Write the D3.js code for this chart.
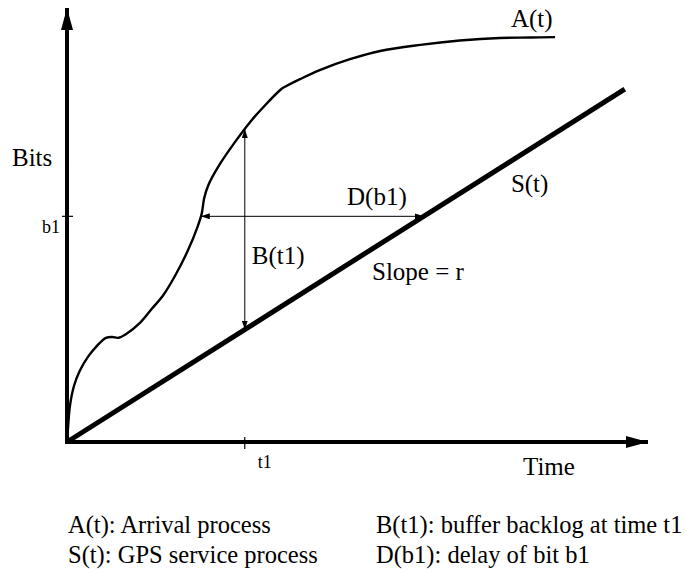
<!DOCTYPE html>
<html>
<head>
<meta charset="utf-8">
<script src="https://cdn.jsdelivr.net/npm/d3@7"></script>
<style>
  body { margin: 0; background: #fff; }
  svg text { font-family: "Liberation Serif", "Times New Roman", serif; fill: #000; }
</style>
</head>
<body>
<svg id="chart"></svg>
<script>
// Arrival curve A(t): [time, bits] (both axes 0..100)
const arrivalTime = [0, 0.2, 0.5, 1.2, 2.2, 3.6, 5.2, 6.7, 7.8, 8.8, 10.2, 12.6, 14.6, 16.5, 18.6, 20.8,
  22.5, 23.2, 23.6, 24.3, 26.3, 28.9, 31.5, 34.1, 36.7, 37.2, 40.1, 43.5, 48.7, 53.9, 60.8, 67.6, 74.5, 79.7, 84.0];
const arrivalBits = [0, 3.7, 8.3, 12.9, 16.4, 19.6, 22.2, 24.0, 24.2, 24.0, 24.9, 27.5, 30.7, 33.7, 38.3, 44.1,
  49.7, 52.7, 56.1, 59.1, 64.0, 69.1, 73.7, 77.6, 81.1, 81.6, 83.6, 85.7, 88.2, 90.1, 91.5, 92.5, 93.1, 93.2, 93.3];

// GPS service curve S(t) = r * t
const serviceRate = 0.847;
const serviceEnd = 96;

// marked instants
const t1 = 30.6;
const b1 = 52.0;

const labels = [
  { text: "A(t)", t: 76.4, b: 95.6 },
  { text: "S(t)", t: 76.4, b: 57.7 },
  { text: "D(b1)", t: 48.2, b: 54.7 },
  { text: "B(t1)", t: 31.8, b: 41.1 },
  { text: "Slope = r", t: 52.5, b: 37.4 }
];
const legendLeft = ["A(t): Arrival process", "S(t): GPS service process"];
const legendRight = ["B(t1): buffer backlog at time t1", "D(b1): delay of bit b1"];

const width = 686, height = 572;
const svg = d3.select("#chart").attr("width", width).attr("height", height);

const x = d3.scaleLinear().domain([0, 100]).range([67, 648]);
const y = d3.scaleLinear().domain([0, 100]).range([442, 8]);

const arrival = arrivalTime.map((t, i) => [t, arrivalBits[i]]);

// linear lookup on the arrival curve
function arrivalAt(t) {
  const i = d3.bisector(d => d[0]).right(arrival, t);
  const a = arrival[i - 1], b = arrival[i];
  return a[1] + (b[1] - a[1]) * (t - a[0]) / (b[0] - a[0]);
}
function arrivalInverse(v) {
  for (let i = 1; i < arrival.length; i++) {
    const a = arrival[i - 1], b = arrival[i];
    if (b[1] >= v) return a[0] + (b[0] - a[0]) * (v - a[1]) / (b[1] - a[1]);
  }
}

// arrowheads
const defs = svg.append("defs");
function marker(id, len, half) {
  defs.append("marker")
    .attr("id", id)
    .attr("viewBox", `0 ${-half} ${len} ${half * 2}`)
    .attr("refX", len).attr("refY", 0)
    .attr("markerWidth", len).attr("markerHeight", half * 2)
    .attr("markerUnits", "userSpaceOnUse")
    .attr("orient", "auto-start-reverse")
    .append("path")
    .attr("d", `M0,${-half}L${len},0L0,${half}Z`)
    .attr("fill", "#000");
}
marker("bigArrow", 22, 6);
marker("smallArrow", 9, 3);

// axes
svg.append("line")
  .attr("x1", x(0)).attr("y1", y(0) + 2).attr("x2", x(0)).attr("y2", y(100))
  .attr("stroke", "#000").attr("stroke-width", 4)
  .attr("marker-end", "url(#bigArrow)");
svg.append("line")
  .attr("x1", x(0) - 2).attr("y1", y(0)).attr("x2", x(100)).attr("y2", y(0))
  .attr("stroke", "#000").attr("stroke-width", 4)
  .attr("marker-end", "url(#bigArrow)");

// ticks
svg.append("line")
  .attr("x1", x(0) - 5).attr("x2", x(0) + 6).attr("y1", y(b1)).attr("y2", y(b1))
  .attr("stroke", "#000").attr("stroke-width", 1.2);
svg.append("line")
  .attr("x1", x(t1)).attr("x2", x(t1)).attr("y1", y(0) - 5).attr("y2", y(0) + 7)
  .attr("stroke", "#000").attr("stroke-width", 1.2);

svg.append("text").attr("x", x(0) - 7).attr("y", y(b1) + 17)
  .attr("text-anchor", "end").attr("font-size", 18).text("b1");
svg.append("text").attr("x", x(t1) + 13).attr("y", y(0) + 26)
  .attr("font-size", 18).text("t1");

svg.append("text").attr("x", 12).attr("y", 166).attr("font-size", 25).text("Bits");
svg.append("text").attr("x", 523).attr("y", 475).attr("font-size", 25).text("Time");

// curves
const line = d3.line().x(d => x(d[0])).y(d => y(d[1]));
svg.append("path")
  .datum(arrival)
  .attr("d", line.curve(d3.curveCatmullRom.alpha(0.5)))
  .attr("fill", "none").attr("stroke", "#000").attr("stroke-width", 2.4);

svg.append("path")
  .datum([[0, 0], [serviceEnd, serviceRate * serviceEnd]])
  .attr("d", d3.line().x(d => x(d[0])).y(d => y(d[1])))
  .attr("fill", "none").attr("stroke", "#000").attr("stroke-width", 5);

// backlog B(t1)
svg.append("line")
  .attr("x1", x(t1)).attr("x2", x(t1))
  .attr("y1", y(serviceRate * t1)).attr("y2", y(arrivalAt(t1)))
  .attr("stroke", "#000").attr("stroke-width", 1)
  .attr("marker-start", "url(#smallArrow)").attr("marker-end", "url(#smallArrow)");

// delay D(b1)
svg.append("line")
  .attr("x1", x(arrivalInverse(b1))).attr("x2", x(b1 / serviceRate))
  .attr("y1", y(b1)).attr("y2", y(b1))
  .attr("stroke", "#000").attr("stroke-width", 1)
  .attr("marker-start", "url(#smallArrow)").attr("marker-end", "url(#smallArrow)");

svg.selectAll("text.curve-label")
  .data(labels)
  .enter()
  .append("text")
  .attr("class", "curve-label")
  .attr("x", d => x(d.t)).attr("y", d => y(d.b))
  .attr("font-size", 25)
  .text(d => d.text);

// legend
svg.selectAll("text.legend-left")
  .data(legendLeft)
  .enter()
  .append("text")
  .attr("class", "legend-left")
  .attr("x", 68).attr("y", (d, i) => 533 + i * 30)
  .attr("font-size", 24.5)
  .text(d => d);
svg.selectAll("text.legend-right")
  .data(legendRight)
  .enter()
  .append("text")
  .attr("class", "legend-right")
  .attr("x", 376).attr("y", (d, i) => 533 + i * 30)
  .attr("font-size", 24.5)
  .text(d => d);
</script>
</body>
</html>
